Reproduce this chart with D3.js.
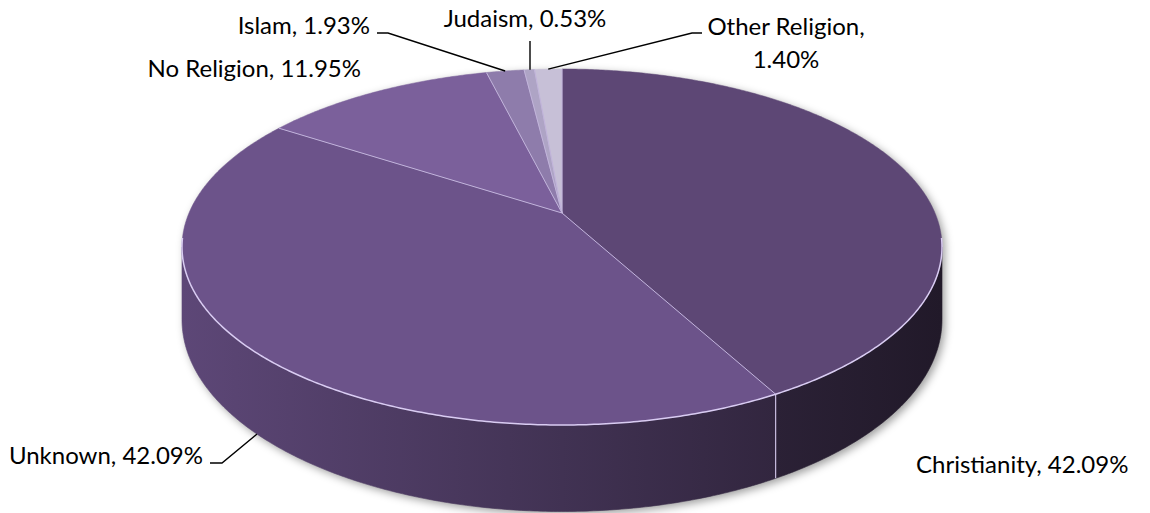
<!DOCTYPE html>
<html>
<head>
<meta charset="utf-8">
<script src="https://cdn.jsdelivr.net/npm/d3@7"></script>
<style>
  html, body { margin: 0; padding: 0; background: #fff; }
  svg { display: block; }
  text { font-family: Lato, "Open Sans", sans-serif; fill: #000; }
</style>
</head>
<body>
<svg id="chart" width="1150" height="513"></svg>
<script>
// ---- data ----
const categories = ["Christianity", "Unknown", "No Religion", "Islam", "Judaism", "Other Religion"];
const values = [42.09, 42.09, 11.95, 1.93, 0.53, 1.40];
const labels = ["Christianity, 42.09%", "Unknown, 42.09%", "No Religion, 11.95%", "Islam, 1.93%", "Judaism, 0.53%", "Other Religion,|1.40%"];
const topColors = ["#5d4775", "#6c538a", "#7b609b", "#8e7cab", "#aea4c5", "#c7c0d7"];

// ---- layout ----
const W = 1150, H = 513;
const cx = 562, cy0 = 213;     // projected centre of the top face
const a = 373, b = 171.5;      // radii before perspective
const k = -0.191;              // perspective factor
const depth = 70;              // thickness of the pie
const svg = d3.select("#chart");
const defs = svg.append("defs");

function proj(phi, r, z) {
  const x = r * Math.sin(phi), y = -r * Math.cos(phi);
  const d = 1 + k * y;
  return [cx + a * x / d, cy0 + (b * y + z) / d];
}
function arcPts(s, e, z) {
  const pts = [];
  const steps = Math.max(2, Math.ceil(Math.abs(e - s) / (Math.PI / 180) * 2));
  for (let i = 0; i <= steps; i++) pts.push(proj(s + (e - s) * i / steps, 1, z));
  return pts;
}
const line = d3.line();

const pie = d3.pie().sort(null).value(d => d.v);
const arcs = pie(categories.map((c, i) => ({ c, v: values[i], i })));

// visible wall range (silhouette where y = -k)
const visS = Math.PI - Math.acos(-k), visE = Math.PI + Math.acos(-k);

// shadow
const flt = defs.append("filter").attr("id", "sh").attr("x", "-10%").attr("y", "-10%").attr("width", "120%").attr("height", "130%");
flt.append("feGaussianBlur").attr("stdDeviation", 4);
const shadowPts = arcPts(visS, visE, depth).concat(arcPts(visE, visS + 2 * Math.PI, 0));
svg.append("path")
  .attr("d", line(shadowPts.map(p => [p[0] + 3, p[1] + 3])) + "Z")
  .attr("fill", "rgba(0,0,0,0.38)")
  .attr("filter", "url(#sh)");

// shading of the walls across the width
const xLeft = cx - a / Math.sqrt(1 - k * k), xRight = cx + a / Math.sqrt(1 - k * k);
const shadeStops = [[0, 0.86], [0.5, 0.60], [0.78, 0.46], [1, 0.35]];

// walls
arcs.forEach(d => {
  const s = Math.max(d.startAngle, visS), e = Math.min(d.endAngle, visE);
  if (e <= s) return;
  const g = defs.append("linearGradient").attr("id", "wall" + d.data.i)
    .attr("gradientUnits", "userSpaceOnUse")
    .attr("x1", xLeft).attr("x2", xRight).attr("y1", 0).attr("y2", 0);
  const base = d3.rgb(topColors[d.data.i]);
  shadeStops.forEach(([o, f]) => {
    g.append("stop").attr("offset", o)
      .attr("stop-color", d3.rgb(base.r * f, base.g * f, base.b * f).formatHex());
  });
  const pts = arcPts(s, e, 0).concat(arcPts(e, s, depth));
  svg.append("path").attr("d", line(pts) + "Z").attr("fill", `url(#wall${d.data.i})`)
    .attr("stroke", `url(#wall${d.data.i})`).attr("stroke-width", 0.6);
});
// wall edge lines at slice borders
arcs.forEach(d => {
  const e = d.endAngle;
  if (e > visS && e < visE) {
    const p1 = proj(e, 1, 0), p2 = proj(e, 1, depth);
    svg.append("line").attr("x1", p1[0]).attr("y1", p1[1]).attr("x2", p2[0]).attr("y2", p2[1])
      .attr("stroke", "#c9bde0").attr("stroke-width", 1.2);
  }
});

// top faces
arcs.forEach(d => {
  const pts = [[cx, cy0]].concat(arcPts(d.startAngle, d.endAngle, 0));
  svg.append("path").attr("d", line(pts) + "Z")
    .attr("fill", topColors[d.data.i])
    .attr("stroke", topColors[d.data.i]).attr("stroke-width", 0.5);
});
// slice separators on top
arcs.forEach(d => {
  const p = proj(d.startAngle, 1, 0);
  svg.append("line").attr("x1", cx).attr("y1", cy0).attr("x2", p[0]).attr("y2", p[1])
    .attr("stroke", "#c2b4dc").attr("stroke-width", 1);
});
// rim highlight
svg.append("path").attr("d", line(arcPts(visS - 0.05, visE + 0.05, 0)))
  .attr("fill", "none").attr("stroke", "#d9ccf2").attr("stroke-width", 1.5);

// ---- labels ----
const labelPos = [
  { x: 916, y: 473, anchor: "start" },   // Christianity
  { x: 203, y: 464, anchor: "end" },     // Unknown
  { x: 361, y: 77, anchor: "end" },      // No Religion
  { x: 370, y: 34, anchor: "end" },      // Islam
  { x: 525, y: 27, anchor: "middle" },   // Judaism
  { x: 786, y: 35, anchor: "middle" }    // Other Religion
];
const fs = 24;
labels.forEach((t, i) => {
  const lp = labelPos[i];
  const parts = t.split("|");
  const txt = svg.append("text").attr("x", lp.x).attr("y", lp.y)
    .attr("text-anchor", lp.anchor).attr("font-size", fs);
  parts.forEach((p, j) => {
    txt.append("tspan").attr("x", lp.x).attr("dy", j === 0 ? 0 : 33).text(p);
  });
});

// leader lines
const leaders = [
  { i: 3, pts: [[377, 33], [388, 33]], z: 0, off: 0 },
  { i: 4, pts: [[530, 41]], z: 0, off: 0 },
  { i: 5, pts: [[702, 33], [692, 33]], z: 0, off: 0 },
  { i: 1, pts: [[210, 463], [222, 463]], z: depth, off: -0.04 }
];
leaders.forEach(L => {
  const d = arcs[L.i];
  const mid = (d.startAngle + d.endAngle) / 2 + L.off;
  let anchor = proj(mid, 1, L.z);
  if (L.i === 4) anchor = [L.pts[0][0], anchor[1]];
  const pts = L.pts.concat([anchor]);
  svg.append("path").attr("d", line(pts)).attr("fill", "none")
    .attr("stroke", "#000").attr("stroke-width", 1.4);
});
</script>
</body>
</html>
